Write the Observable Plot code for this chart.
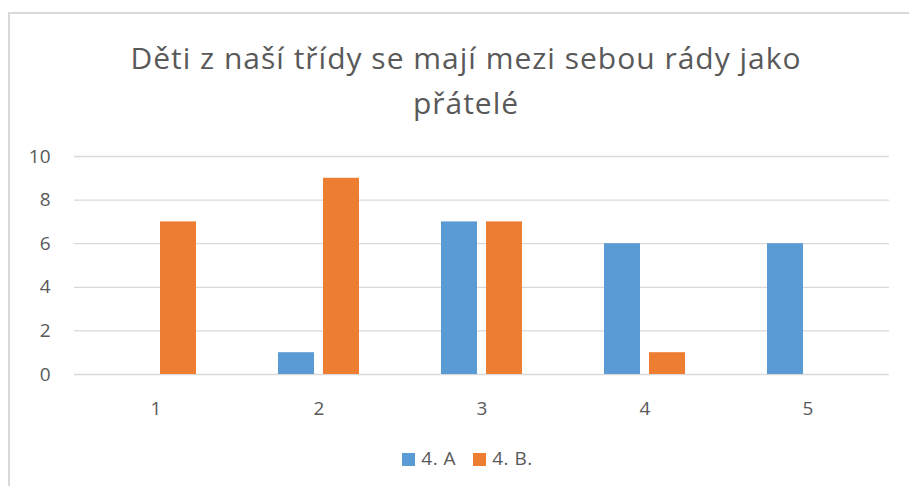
<!DOCTYPE html>
<html><head><meta charset="utf-8">
<script src="https://cdn.jsdelivr.net/npm/d3@7"></script>
<script src="https://cdn.jsdelivr.net/npm/@observablehq/plot@0.6"></script>
<style>
body{margin:0;width:909px;height:486px;overflow:hidden;background:#fff;font-family:"Open Sans",sans-serif;position:relative}
#frame{position:absolute;left:8px;top:12px;width:1000px;height:600px;border-left:2px solid #d9d9d9;border-top:2px solid #d9d9d9;box-sizing:border-box}
#title{position:absolute;left:0;width:909px;top:35px;text-align:center;color:#595959;font-size:30px;letter-spacing:1px;line-height:45px;margin-left:11.5px}
#chart{position:absolute;left:0;top:140px}
#legend{position:absolute;left:0;width:909px;top:445px;display:flex;justify-content:center;gap:17px;color:#595959;font-size:19px;letter-spacing:0.5px;margin-left:13px}
#legend span.sw{display:inline-block;width:13px;height:13px;margin-right:6px;vertical-align:-1px}
</style></head><body>
<div id="frame"></div>
<div id="title">Děti z naší třídy se mají mezi sebou rády jako<br>přátelé</div>
<div id="chart"></div>
<div id="legend"></div>
<script>
const categories = ["1","2","3","4","5"];
const seriesNames = ["4. A","4. B."];
const valuesA = [0,1,7,6,6];
const valuesB = [7,9,7,1,0];
const colors = ["#5b9bd5","#ed7d31"];
const yTicks = [0,2,4,6,8,10];

const data = [];
categories.forEach((c,i)=>{
  data.push({cat:c, series:seriesNames[0], value:valuesA[i]});
  data.push({cat:c, series:seriesNames[1], value:valuesB[i]});
});

const chart = Plot.plot({
  width:909, height:284,
  marginLeft:72, marginRight:19, marginTop:16, marginBottom:50,
  style:{fontFamily:"'Open Sans', sans-serif", fontSize:"19px", color:"#595959", background:"transparent"},
  fx:{domain:categories, padding:0, label:null},
  x:{domain:seriesNames, paddingInner:0.196, paddingOuter:0.876, axis:null},
  y:{domain:[0,10]},
  color:{domain:seriesNames, range:colors},
  marks:[
    Plot.ruleY(yTicks, {stroke:"#d9d9d9", strokeWidth:1.3}),
    Plot.barY(data, {fx:"cat", x:"series", y:"value", fill:"series"}),
    Plot.axisY({ticks:yTicks, tickSize:0, tickPadding:24, label:null, fill:"#595959", fontSize:19}),
    Plot.axisFx({anchor:"bottom", tickSize:0, tickPadding:27, label:null, fill:"#595959", fontSize:19})
  ]
});
d3.select(chart).selectAll("text").style("font-size","19px").style("font-family","'Open Sans', sans-serif");
document.getElementById("chart").appendChild(chart);

const leg = document.getElementById("legend");
seriesNames.forEach((n,i)=>{
  const d=document.createElement("div");
  d.innerHTML=`<span class="sw" style="background:${colors[i]}"></span>${n}`;
  leg.appendChild(d);
});
</script>
</body></html>
